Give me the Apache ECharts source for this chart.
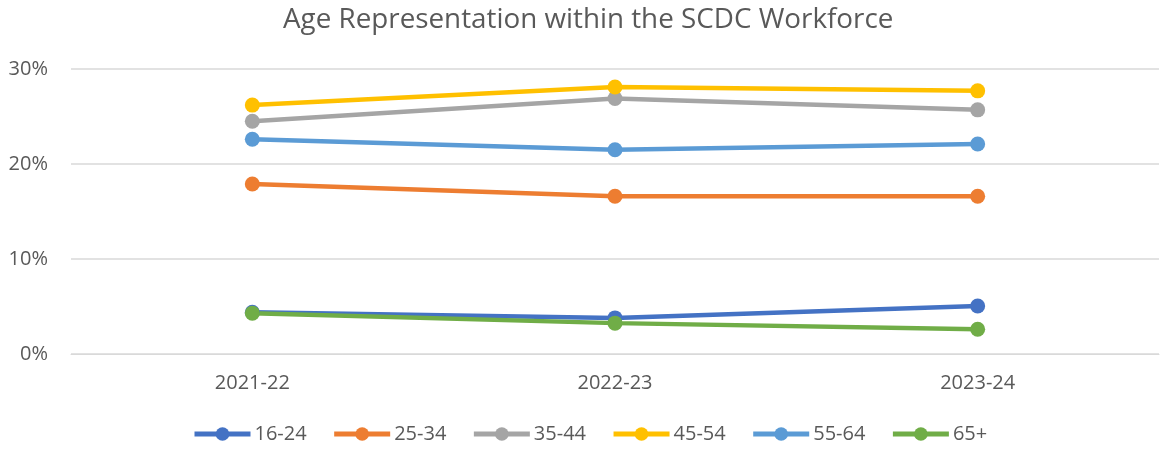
<!DOCTYPE html>
<html>
<head>
<meta charset="utf-8">
<script src="https://cdn.jsdelivr.net/npm/echarts@6/dist/echarts.min.js"></script>
<style>
  html, body { margin: 0; padding: 0; background: #fff; }
  #chart { width: 1161px; height: 451px; }
</style>
</head>
<body>
<div id="chart"></div>
<script>
// data (percent)
const years = ['2021-22', '2022-23', '2023-24'];
const ageGroups = ['16-24', '25-34', '35-44', '45-54', '55-64', '65+'];
const age16to24 = [4.4, 3.8, 5.05];
const age25to34 = [17.9, 16.6, 16.6];
const age35to44 = [24.5, 26.9, 25.7];
const age45to54 = [26.2, 28.1, 27.7];
const age55to64 = [22.6, 21.5, 22.1];
const age65plus = [4.3, 3.25, 2.6];
const yTicks = [0, 10, 20, 30];

const colors = ['#4472C4', '#ED7D31', '#A5A5A5', '#FFC000', '#5B9BD5', '#70AD47'];
const allValues = [age16to24, age25to34, age35to44, age45to54, age55to64, age65plus];

const font = 'Open Sans';
const chart = echarts.init(document.getElementById('chart'));

chart.setOption({
  animation: false,
  color: colors,
  title: {
    text: 'Age Representation within the SCDC Workforce',
    left: 278,
    top: 1,
    textStyle: { fontFamily: font, fontSize: 27.8, fontWeight: 'normal', color: '#595959' }
  },
  grid: { left: 71, right: 2, top: 69, bottom: 97 },
  legend: {
    bottom: 2,
    left: 187,
    itemWidth: 56,
    itemHeight: 17,
    itemGap: 25,
    data: ageGroups,
    lineStyle: { width: 5 },
    textStyle: { fontFamily: font, fontSize: 20, color: '#595959', padding: [0, 0, 0, -1] }
  },
  xAxis: {
    type: 'category',
    data: years,
    axisLine: { lineStyle: { color: '#d9d9d9', width: 1 } },
    axisTick: { show: false },
    axisLabel: { fontFamily: font, fontSize: 20, color: '#595959', margin: 19 }
  },
  yAxis: {
    type: 'value',
    min: yTicks[0],
    max: yTicks[yTicks.length - 1],
    interval: 10,
    axisLine: { show: false },
    axisTick: { show: false },
    splitLine: { lineStyle: { color: '#d9d9d9', width: 1.5 } },
    axisLabel: { fontFamily: font, fontSize: 20, color: '#595959', margin: 23, formatter: '{value}%' }
  },
  series: ageGroups.map((name, i) => ({
    name: name,
    type: 'line',
    data: allValues[i],
    symbol: 'circle',
    symbolSize: 15,
    lineStyle: { width: 4.5 },
    itemStyle: { color: colors[i] }
  }))
});
</script>
</body>
</html>
